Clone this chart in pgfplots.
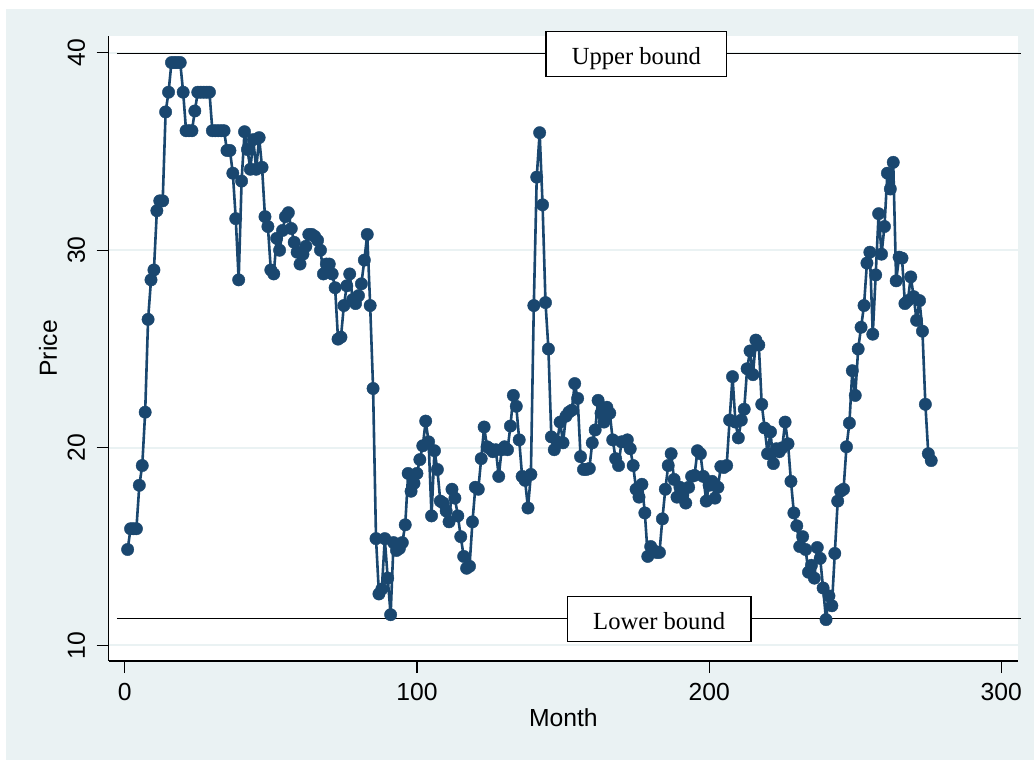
\documentclass[border=0pt]{standalone}
\usepackage{pgfplots}
\pgfplotsset{compat=1.18}
\usepackage{fontspec}
\setmainfont{Liberation Sans}
\newfontfamily\serif{Liberation Serif}
\definecolor{navy}{RGB}{26,71,111}
\definecolor{bgc}{RGB}{234,242,243}
\newcommand\lab{\fontsize{24.7bp}{29bp}\selectfont}
\begin{document}
\begin{tikzpicture}
\fill[white] (0,0) rectangle (1034bp,760bp);
\fill[bgc] (6bp,0) rectangle (1034bp,751bp);
\begin{axis}[
  at={(108.7bp,99bp)}, anchor=south west,
  scale only axis, width=909.3bp, height=625.3bp,
  xmin=-5.48, xmax=305.7, ymin=9.205, ymax=40.861,
  axis lines=left,
  axis line style={black, line width=1.2bp, -},
  xtick={0,100,200,300}, ytick={10,20,30,40},
  tick align=outside, major tick length=12bp,
  tick style={black, line width=1.2bp},
  ymajorgrids, grid style={bgc, line width=2.2bp},
  tick label style={font=\lab},
  xticklabel shift=6.5bp, yticklabel shift=8bp,
  yticklabel style={rotate=90, anchor=south},
  /pgf/number format/assume math mode=true,
  axis background/.style={fill=white},
  clip=false,
]
% bounds
\addplot[black, line width=1.3bp, mark=none] coordinates {(-2.64,39.96) (306.6,39.96)};
\addplot[black, line width=1.3bp, mark=none] coordinates {(-2.64,11.367) (306.6,11.367)};

\addplot[navy, line width=2.6bp, line join=round, mark=*, mark size=6.2bp,
  mark options={solid, fill=navy, draw=navy, line width=0.4bp}] table {
m p
1 14.85
2 15.9
3 15.9
4 15.9
5 18.1
6 19.1
7 21.8
8 26.5
9 28.5
10 29.0
11 32.0
12 32.5
13 32.5
14 37.0
15 38.0
16 39.5
17 39.5
18 39.5
19 39.5
20 38.0
21 36.05
22 36.05
23 36.05
24 37.05
25 38.0
26 38.0
27 38.0
28 38.0
29 38.0
30 36.05
31 36.05
32 36.05
33 36.05
34 36.05
35 35.05
36 35.05
37 33.9
38 31.6
39 28.5
40 33.5
41 36.0
42 35.1
43 34.1
44 35.6
45 34.1
46 35.7
47 34.2
48 31.7
49 31.2
50 29.0
51 28.8
52 30.6
53 30.0
54 31.0
55 31.7
56 31.9
57 31.1
58 30.4
59 29.9
60 29.3
61 29.8
62 30.2
63 30.8
64 30.8
65 30.7
66 30.5
67 30.0
68 28.8
69 29.3
70 29.3
71 28.8
72 28.1
73 25.5
74 25.6
75 27.2
76 28.2
77 28.8
78 27.5
79 27.3
80 27.7
81 28.3
82 29.5
83 30.8
84 27.2
85 23.0
86 15.4
87 12.6
88 12.85
89 15.4
90 13.4
91 11.55
92 15.2
93 14.8
94 14.9
95 15.2
96 16.1
97 18.7
98 17.8
99 18.2
100 18.7
101 19.4
102 20.1
103 21.35
104 20.3
105 16.55
106 19.85
107 18.9
108 17.3
109 17.2
110 16.8
111 16.25
112 17.9
113 17.45
114 16.55
115 15.5
116 14.5
117 13.9
118 14.0
119 16.25
120 18.0
121 17.9
122 19.45
123 21.05
124 20.05
125 19.95
126 19.8
127 19.9
128 18.55
129 19.9
130 20.05
131 19.9
132 21.1
133 22.65
134 22.1
135 20.4
136 18.55
137 18.35
138 16.95
139 18.65
140 27.2
141 33.7
142 35.95
143 32.3
144 27.35
145 25.0
146 20.55
147 19.9
148 20.3
149 21.3
150 20.25
151 21.6
152 21.8
153 21.9
154 23.25
155 22.5
156 19.55
157 18.9
158 18.9
159 18.95
160 20.25
161 20.9
162 22.4
163 21.75
164 21.3
165 22.05
166 21.75
167 20.4
168 19.45
169 19.1
170 20.3
171 20.3
172 20.4
173 19.95
174 19.1
175 17.9
176 17.5
177 18.15
178 16.7
179 14.5
180 15.0
181 14.8
182 14.7
183 14.7
184 16.4
185 17.9
186 19.1
187 19.7
188 18.4
189 17.5
190 18.0
191 17.6
192 17.2
193 18.0
194 18.55
195 18.6
196 19.85
197 19.7
198 18.55
199 17.3
200 18.1
201 18.3
202 17.45
203 18.0
204 19.05
205 19.0
206 19.1
207 21.4
208 23.6
209 21.3
210 20.5
211 21.4
212 21.95
213 24.0
214 24.9
215 23.7
216 25.45
217 25.2
218 22.2
219 21.0
220 19.7
221 20.8
222 19.2
223 19.95
224 19.8
225 20.0
226 21.3
227 20.2
228 18.3
229 16.7
230 16.05
231 15.0
232 15.5
233 14.85
234 13.7
235 14.05
236 13.4
237 14.95
238 14.4
239 12.9
240 11.3
241 12.5
242 12.0
243 14.65
244 17.3
245 17.8
246 17.9
247 20.05
248 21.25
249 23.9
250 22.65
251 25.0
252 26.1
253 27.2
254 29.35
255 29.9
256 25.75
257 28.75
258 31.85
259 29.8
260 31.2
261 33.9
262 33.1
263 34.45
264 28.45
265 29.65
266 29.6
267 27.3
268 27.45
269 28.65
270 27.65
271 26.45
272 27.45
273 25.9
274 22.2
275 19.7
276 19.35
};

\node[draw=black, fill=white, line width=1.4bp, font=\serif\fontsize{24.6bp}{29bp}\selectfont,
  inner xsep=25.8bp, inner ysep=0pt, text height=33.3bp, text depth=11.7bp, anchor=base]
  at (axis cs:175.1,39.378) {Upper bound};
\node[draw=black, fill=white, line width=1.4bp, font=\serif\fontsize{24.6bp}{29bp}\selectfont,
  inner xsep=25.8bp, inner ysep=0pt, text height=33.3bp, text depth=11.7bp, anchor=base]
  at (axis cs:182.9,10.78) {Lower bound};

\node[font=\lab, anchor=base] at ([yshift=-65bp]axis description cs:0.5,0) {Month};
\node[font=\lab, rotate=90, anchor=base] at ([xshift=-51.7bp]axis description cs:0,0.5) {Price};
\end{axis}
\pgfresetboundingbox
\path (0,0) rectangle (1034bp,760bp);
\end{tikzpicture}
\end{document}
